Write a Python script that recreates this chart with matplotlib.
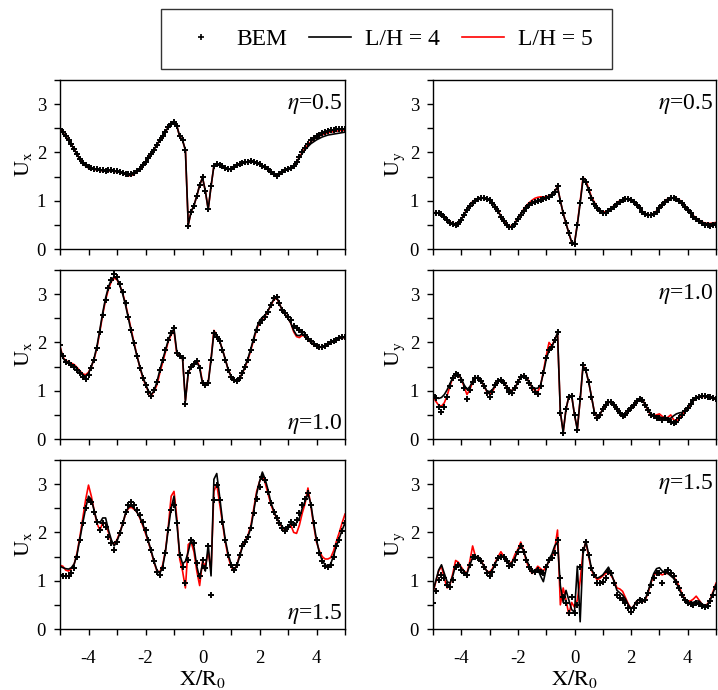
import numpy as np
import matplotlib.pyplot as plt
from matplotlib.ticker import MultipleLocator
from matplotlib.lines import Line2D

plt.rcParams['font.family'] = ['Liberation Serif', 'DejaVu Serif']
plt.rcParams['mathtext.fontset'] = 'stix'
plt.rcParams['axes.unicode_minus'] = False

# sampling points along X/R0
x = np.arange(-50, 51) / 10.0

# ---- Ux, eta = 0.5 ----
ux05_bem = [2.49, 2.42, 2.34, 2.26, 2.17, 2.07, 1.97, 1.87, 1.79, 1.73,
            1.69, 1.67, 1.66, 1.65, 1.64, 1.63, 1.62, 1.63, 1.63, 1.62,
            1.61, 1.60, 1.58, 1.56, 1.55, 1.55, 1.57, 1.61, 1.66, 1.73,
            1.80, 1.88, 1.97, 2.06, 2.16, 2.25, 2.34, 2.43, 2.52, 2.59,
            2.63, 2.55, 2.33, 2.25, 2.05, 0.47, 0.77, 0.90, 1.10, 1.32,
            1.49, 1.20, 0.82, 1.30, 1.72, 1.76, 1.74, 1.71, 1.68, 1.66,
            1.66, 1.69, 1.73, 1.76, 1.78, 1.80, 1.81, 1.82, 1.81, 1.79,
            1.76, 1.72, 1.69, 1.65, 1.60, 1.55, 1.51, 1.55, 1.60, 1.64,
            1.66, 1.67, 1.72, 1.80, 1.90, 2.01, 2.10, 2.18, 2.25, 2.30,
            2.34, 2.37, 2.40, 2.42, 2.44, 2.46, 2.47, 2.48, 2.48, 2.49, 2.49]
ux05_l4 = [2.47, 2.41, 2.33, 2.25, 2.16, 2.06, 1.96, 1.86, 1.78, 1.72,
           1.68, 1.66, 1.65, 1.64, 1.63, 1.62, 1.61, 1.62, 1.62, 1.61,
           1.60, 1.59, 1.57, 1.55, 1.53, 1.53, 1.56, 1.60, 1.66, 1.73,
           1.80, 1.88, 1.97, 2.06, 2.16, 2.25, 2.34, 2.43, 2.52, 2.59,
           2.63, 2.55, 2.33, 2.25, 2.05, 0.50, 0.77, 0.90, 1.10, 1.32,
           1.48, 1.20, 0.82, 1.30, 1.72, 1.75, 1.73, 1.70, 1.67, 1.65,
           1.65, 1.68, 1.72, 1.75, 1.77, 1.79, 1.80, 1.81, 1.80, 1.78,
           1.75, 1.71, 1.68, 1.64, 1.59, 1.54, 1.50, 1.54, 1.59, 1.63,
           1.65, 1.66, 1.71, 1.79, 1.89, 1.98, 2.06, 2.12, 2.18, 2.22,
           2.26, 2.29, 2.32, 2.34, 2.36, 2.37, 2.38, 2.39, 2.40, 2.41, 2.42]
ux05_l5 = [2.48, 2.41, 2.33, 2.25, 2.16, 2.06, 1.96, 1.86, 1.78, 1.72,
           1.68, 1.66, 1.65, 1.64, 1.63, 1.62, 1.61, 1.62, 1.62, 1.61,
           1.60, 1.59, 1.57, 1.54, 1.52, 1.52, 1.55, 1.60, 1.66, 1.73,
           1.80, 1.88, 1.97, 2.06, 2.16, 2.25, 2.34, 2.43, 2.52, 2.59,
           2.63, 2.55, 2.33, 2.25, 2.05, 0.50, 0.77, 0.90, 1.10, 1.32,
           1.48, 1.20, 0.82, 1.30, 1.72, 1.76, 1.74, 1.71, 1.68, 1.66,
           1.66, 1.69, 1.73, 1.76, 1.78, 1.80, 1.81, 1.82, 1.81, 1.79,
           1.76, 1.72, 1.69, 1.65, 1.60, 1.55, 1.51, 1.55, 1.60, 1.64,
           1.66, 1.67, 1.72, 1.80, 1.90, 2.00, 2.09, 2.16, 2.22, 2.27,
           2.31, 2.34, 2.37, 2.39, 2.41, 2.42, 2.43, 2.44, 2.45, 2.46, 2.46]

# ---- Uy, eta = 0.5 ----
uy05_bem = [0.74, 0.74, 0.74, 0.72, 0.67, 0.60, 0.54, 0.51, 0.50, 0.52,
            0.60, 0.70, 0.80, 0.89, 0.96, 1.00, 1.03, 1.05, 1.05, 1.04,
            1.01, 0.95, 0.88, 0.78, 0.67, 0.57, 0.50, 0.45, 0.45, 0.52,
            0.62, 0.70, 0.78, 0.85, 0.91, 0.95, 0.98, 1.00, 1.02, 1.04,
            1.05, 1.08, 1.12, 1.18, 1.30, 1.00, 0.74, 0.53, 0.33, 0.12,
            0.10, 0.50, 0.95, 1.45, 1.38, 1.22, 1.05, 0.94, 0.84, 0.78,
            0.75, 0.75, 0.78, 0.83, 0.88, 0.94, 0.98, 1.01, 1.03, 1.03,
            1.01, 0.97, 0.91, 0.84, 0.77, 0.73, 0.70, 0.70, 0.72, 0.77,
            0.84, 0.91, 0.98, 1.02, 1.05, 1.05, 1.03, 0.99, 0.95, 0.88,
            0.81, 0.74, 0.67, 0.62, 0.57, 0.53, 0.50, 0.49, 0.48, 0.49, 0.50]
uy05_l4 = [0.75, 0.75, 0.74, 0.72, 0.67, 0.61, 0.55, 0.52, 0.51, 0.53,
           0.61, 0.71, 0.81, 0.90, 0.97, 1.01, 1.04, 1.05, 1.05, 1.04,
           1.01, 0.95, 0.88, 0.78, 0.67, 0.57, 0.50, 0.46, 0.46, 0.53,
           0.63, 0.71, 0.79, 0.86, 0.92, 0.96, 0.99, 1.01, 1.03, 1.05,
           1.06, 1.09, 1.13, 1.19, 1.28, 1.00, 0.74, 0.53, 0.33, 0.14,
           0.12, 0.50, 0.95, 1.43, 1.38, 1.22, 1.05, 0.94, 0.84, 0.78,
           0.75, 0.75, 0.78, 0.83, 0.88, 0.94, 0.98, 1.01, 1.03, 1.03,
           1.01, 0.97, 0.91, 0.84, 0.77, 0.73, 0.70, 0.70, 0.72, 0.77,
           0.84, 0.91, 0.98, 1.02, 1.05, 1.05, 1.03, 0.99, 0.95, 0.88,
           0.81, 0.74, 0.68, 0.63, 0.59, 0.55, 0.53, 0.52, 0.52, 0.53, 0.54]
uy05_l5 = [0.75, 0.75, 0.74, 0.72, 0.68, 0.62, 0.56, 0.53, 0.52, 0.54,
           0.62, 0.72, 0.82, 0.91, 0.98, 1.02, 1.04, 1.06, 1.06, 1.05,
           1.02, 0.96, 0.89, 0.79, 0.68, 0.58, 0.51, 0.47, 0.47, 0.54,
           0.64, 0.73, 0.82, 0.90, 0.96, 1.01, 1.05, 1.07, 1.08, 1.08,
           1.08, 1.10, 1.14, 1.20, 1.28, 1.00, 0.74, 0.53, 0.33, 0.14,
           0.12, 0.52, 0.98, 1.48, 1.42, 1.25, 1.08, 0.97, 0.87, 0.80,
           0.77, 0.77, 0.80, 0.85, 0.90, 0.96, 1.00, 1.02, 1.04, 1.04,
           1.02, 0.98, 0.92, 0.85, 0.78, 0.74, 0.71, 0.71, 0.74, 0.79,
           0.86, 0.93, 1.00, 1.04, 1.06, 1.06, 1.05, 1.02, 0.97, 0.90,
           0.83, 0.76, 0.69, 0.64, 0.60, 0.56, 0.54, 0.53, 0.53, 0.54, 0.55]

# ---- Ux, eta = 1.0 ----
ux10_bem = [1.95, 1.71, 1.60, 1.57, 1.53, 1.50, 1.43, 1.36, 1.29, 1.25,
            1.33, 1.47, 1.64, 1.88, 2.22, 2.57, 2.88, 3.12, 3.29, 3.41,
            3.36, 3.22, 3.05, 2.81, 2.53, 2.26, 1.98, 1.71, 1.47, 1.26,
            1.12, 0.98, 0.90, 1.01, 1.18, 1.43, 1.64, 1.84, 2.05, 2.19,
            2.29, 1.78, 1.72, 1.68, 0.72, 1.36, 1.50, 1.56, 1.61, 1.47,
            1.15, 1.12, 1.15, 1.64, 2.20, 2.12, 2.02, 1.84, 1.64, 1.43,
            1.29, 1.22, 1.20, 1.26, 1.36, 1.50, 1.64, 1.84, 2.05, 2.26,
            2.40, 2.46, 2.53, 2.64, 2.77, 2.91, 2.95, 2.81, 2.67, 2.60,
            2.53, 2.46, 2.34, 2.29, 2.26, 2.22, 2.15, 2.08, 2.02, 1.96,
            1.93, 1.91, 1.91, 1.93, 1.96, 2.00, 2.03, 2.06, 2.10, 2.11, 2.11]
ux10_l4 = [1.90, 1.68, 1.60, 1.57, 1.54, 1.51, 1.45, 1.38, 1.32, 1.30,
           1.36, 1.50, 1.68, 1.93, 2.27, 2.62, 2.92, 3.15, 3.30, 3.36,
           3.32, 3.18, 3.00, 2.77, 2.50, 2.22, 1.96, 1.72, 1.50, 1.30,
           1.14, 1.00, 0.92, 1.00, 1.18, 1.42, 1.64, 1.84, 2.05, 2.20,
           2.28, 1.80, 1.74, 1.68, 0.78, 1.38, 1.50, 1.56, 1.60, 1.47,
           1.15, 1.12, 1.15, 1.64, 2.20, 2.13, 2.03, 1.85, 1.65, 1.44,
           1.30, 1.22, 1.20, 1.26, 1.36, 1.52, 1.68, 1.88, 2.10, 2.30,
           2.45, 2.52, 2.57, 2.66, 2.78, 2.90, 2.95, 2.80, 2.66, 2.58,
           2.50, 2.40, 2.25, 2.15, 2.14, 2.18, 2.14, 2.07, 2.01, 1.96,
           1.93, 1.91, 1.91, 1.93, 1.96, 2.00, 2.03, 2.06, 2.09, 2.10, 2.10]
ux10_l5 = [1.92, 1.70, 1.62, 1.60, 1.57, 1.54, 1.48, 1.41, 1.35, 1.33,
           1.38, 1.50, 1.66, 1.90, 2.23, 2.58, 2.88, 3.10, 3.26, 3.33,
           3.30, 3.18, 3.02, 2.80, 2.53, 2.26, 1.99, 1.73, 1.49, 1.28,
           1.12, 0.98, 0.91, 0.98, 1.12, 1.36, 1.58, 1.80, 2.02, 2.16,
           2.24, 1.75, 1.72, 1.66, 0.80, 1.36, 1.50, 1.56, 1.62, 1.50,
           1.18, 1.15, 1.18, 1.66, 2.25, 2.15, 2.03, 1.85, 1.65, 1.44,
           1.30, 1.22, 1.20, 1.26, 1.36, 1.50, 1.65, 1.85, 2.06, 2.27,
           2.42, 2.49, 2.55, 2.65, 2.77, 2.88, 2.92, 2.80, 2.66, 2.58,
           2.50, 2.40, 2.22, 2.12, 2.10, 2.15, 2.12, 2.06, 2.00, 1.95,
           1.92, 1.90, 1.90, 1.92, 1.95, 1.99, 2.02, 2.05, 2.08, 2.10, 2.10]

# ---- Uy, eta = 1.0 ----
uy10_bem = [0.92, 0.85, 0.67, 0.56, 0.67, 0.88, 1.09, 1.26, 1.35, 1.33,
            1.23, 1.05, 0.82, 1.02, 1.19, 1.27, 1.27, 1.20, 1.09, 0.95,
            0.88, 0.98, 1.12, 1.21, 1.23, 1.17, 1.05, 0.98, 0.96, 1.05,
            1.19, 1.29, 1.31, 1.26, 1.16, 1.05, 0.98, 0.93, 1.09, 1.36,
            1.67, 1.84, 1.91, 2.05, 2.22, 0.54, 0.12, 0.62, 0.88, 0.90,
            0.50, 0.18, 0.82, 1.53, 1.43, 1.19, 0.88, 0.54, 0.43, 0.50,
            0.62, 0.71, 0.76, 0.76, 0.71, 0.62, 0.54, 0.47, 0.50, 0.57,
            0.64, 0.71, 0.78, 0.83, 0.81, 0.71, 0.61, 0.50, 0.47, 0.43,
            0.43, 0.40, 0.43, 0.39, 0.36, 0.34, 0.36, 0.43, 0.50, 0.57,
            0.64, 0.73, 0.80, 0.85, 0.88, 0.89, 0.89, 0.88, 0.87, 0.85, 0.83]
uy10_l4 = [0.90, 0.86, 0.84, 0.86, 0.92, 1.02, 1.15, 1.27, 1.35, 1.34,
           1.25, 1.12, 1.03, 1.08, 1.20, 1.27, 1.27, 1.21, 1.11, 1.00,
           0.98, 1.02, 1.12, 1.20, 1.22, 1.17, 1.08, 1.02, 1.00, 1.06,
           1.18, 1.28, 1.30, 1.26, 1.17, 1.08, 1.05, 1.05, 1.12, 1.36,
           1.65, 1.84, 1.91, 2.05, 2.20, 0.56, 0.14, 0.62, 0.88, 0.90,
           0.50, 0.20, 0.82, 1.50, 1.42, 1.18, 0.88, 0.56, 0.45, 0.51,
           0.62, 0.71, 0.76, 0.76, 0.71, 0.62, 0.54, 0.48, 0.51, 0.57,
           0.64, 0.71, 0.78, 0.83, 0.81, 0.71, 0.61, 0.52, 0.49, 0.46,
           0.46, 0.44, 0.45, 0.42, 0.43, 0.48, 0.52, 0.54, 0.55, 0.59,
           0.65, 0.73, 0.80, 0.85, 0.88, 0.89, 0.89, 0.88, 0.87, 0.85, 0.83]
uy10_l5 = [0.88, 0.78, 0.70, 0.68, 0.75, 0.90, 1.10, 1.27, 1.36, 1.34,
           1.24, 1.08, 0.92, 1.02, 1.18, 1.26, 1.27, 1.21, 1.10, 0.98,
           0.93, 0.98, 1.10, 1.20, 1.22, 1.18, 1.08, 1.02, 1.00, 1.06,
           1.18, 1.28, 1.32, 1.28, 1.18, 1.07, 1.00, 0.98, 1.10, 1.40,
           1.72, 2.00, 1.92, 2.06, 2.18, 0.56, 0.14, 0.62, 0.88, 0.90,
           0.50, 0.20, 0.82, 1.52, 1.42, 1.18, 0.88, 0.56, 0.45, 0.51,
           0.62, 0.71, 0.76, 0.76, 0.71, 0.62, 0.54, 0.48, 0.51, 0.57,
           0.64, 0.71, 0.78, 0.83, 0.81, 0.71, 0.58, 0.50, 0.48, 0.50,
           0.52, 0.47, 0.43, 0.45, 0.50, 0.40, 0.37, 0.43, 0.50, 0.57,
           0.64, 0.72, 0.79, 0.84, 0.87, 0.88, 0.88, 0.87, 0.86, 0.84, 0.82]

# ---- Ux, eta = 1.5 ----
ux15_bem = [1.12, 1.10, 1.09, 1.09, 1.16, 1.26, 1.50, 1.84, 2.19, 2.50,
            2.68, 2.63, 2.43, 2.22, 2.05, 2.19, 2.12, 1.91, 1.78, 1.64,
            1.81, 1.98, 2.19, 2.43, 2.57, 2.64, 2.57, 2.46, 2.36, 2.22,
            2.05, 1.84, 1.64, 1.40, 1.19, 1.12, 1.26, 1.57, 2.05, 2.46,
            2.57, 2.19, 1.53, 1.29, 0.95, 1.43, 1.84, 1.78, 1.36, 1.09,
            1.43, 1.26, 1.71, 0.71, 2.67, 2.98, 2.67, 2.22, 1.84, 1.53,
            1.33, 1.22, 1.33, 1.53, 1.71, 1.81, 1.91, 2.09, 2.40, 2.70,
            2.95, 3.15, 3.08, 2.84, 2.60, 2.43, 2.29, 2.19, 2.09, 2.02,
            2.12, 2.22, 2.15, 2.26, 2.40, 2.57, 2.70, 2.81, 2.57, 2.19,
            1.84, 1.57, 1.40, 1.31, 1.28, 1.33, 1.50, 1.71, 1.84, 2.02, 2.19]
ux15_l4 = [1.30, 1.27, 1.25, 1.24, 1.27, 1.35, 1.55, 1.87, 2.20, 2.50,
           2.75, 2.68, 2.45, 2.22, 2.20, 2.30, 2.30, 2.05, 1.85, 1.72,
           1.82, 1.98, 2.18, 2.40, 2.52, 2.55, 2.50, 2.42, 2.32, 2.18,
           2.02, 1.82, 1.62, 1.40, 1.22, 1.15, 1.28, 1.60, 2.08, 2.50,
           2.75, 2.20, 1.55, 1.35, 1.40, 1.60, 1.85, 1.70, 1.30, 1.05,
           1.35, 1.20, 1.75, 1.10, 3.10, 3.22, 2.75, 2.25, 1.85, 1.55,
           1.35, 1.22, 1.30, 1.50, 1.70, 1.80, 1.92, 2.10, 2.45, 2.80,
           3.05, 3.25, 3.10, 2.88, 2.62, 2.45, 2.30, 2.20, 2.12, 2.05,
           2.10, 2.20, 2.15, 2.20, 2.30, 2.50, 2.65, 2.80, 2.60, 2.20,
           1.85, 1.58, 1.42, 1.33, 1.30, 1.35, 1.52, 1.72, 1.88, 2.05, 2.20]
ux15_l5 = [1.32, 1.30, 1.22, 1.20, 1.25, 1.35, 1.58, 1.92, 2.30, 2.68,
           2.98, 2.75, 2.45, 2.18, 2.05, 2.20, 2.18, 2.00, 1.80, 1.75,
           1.85, 2.00, 2.18, 2.38, 2.50, 2.52, 2.48, 2.42, 2.30, 2.15,
           1.98, 1.80, 1.60, 1.38, 1.20, 1.18, 1.32, 1.62, 2.12, 2.75,
           2.85, 2.30, 1.45, 1.20, 0.85, 1.75, 1.80, 1.60, 1.20, 0.90,
           1.40, 1.30, 1.60, 1.20, 2.85, 3.00, 2.60, 2.20, 1.80, 1.50,
           1.30, 1.20, 1.32, 1.52, 1.72, 1.82, 1.95, 2.15, 2.50, 2.85,
           3.05, 3.18, 3.02, 2.80, 2.58, 2.42, 2.30, 2.20, 2.10, 2.05,
           2.10, 2.15, 2.00, 1.98, 2.15, 2.40, 2.60, 2.92, 2.55, 2.15,
           1.80, 1.62, 1.50, 1.45, 1.45, 1.48, 1.62, 1.82, 2.00, 2.20, 2.38]

# ---- Uy, eta = 1.5 ----
uy15_bem = [0.54, 0.78, 1.02, 1.12, 1.05, 0.92, 0.88, 1.02, 1.29, 1.33,
            1.23, 1.16, 1.12, 1.33, 1.49, 1.50, 1.47, 1.40, 1.29, 1.16,
            1.10, 1.19, 1.33, 1.47, 1.50, 1.50, 1.40, 1.31, 1.33, 1.43,
            1.60, 1.71, 1.60, 1.43, 1.29, 1.20, 1.19, 1.23, 1.19, 1.17,
            1.29, 1.43, 1.47, 1.57, 1.84, 1.05, 0.67, 0.54, 0.33, 0.67,
            0.33, 0.50, 1.29, 1.64, 1.81, 1.53, 1.26, 1.12, 0.95, 0.95,
            0.98, 1.05, 1.19, 1.16, 0.95, 0.71, 0.64, 0.61, 0.54, 0.43,
            0.36, 0.43, 0.54, 0.61, 0.57, 0.61, 0.74, 0.92, 1.05, 1.16,
            1.17, 0.95, 1.19, 1.23, 1.16, 1.09, 0.98, 0.85, 0.71, 0.61,
            0.54, 0.52, 0.50, 0.54, 0.52, 0.48, 0.45, 0.48, 0.57, 0.71, 0.88]
uy15_l4 = [0.78, 1.00, 1.22, 1.33, 1.15, 0.98, 0.95, 1.10, 1.32, 1.35,
           1.25, 1.18, 1.15, 1.32, 1.48, 1.50, 1.48, 1.40, 1.30, 1.20,
           1.15, 1.22, 1.35, 1.48, 1.52, 1.50, 1.42, 1.35, 1.38, 1.48,
           1.62, 1.72, 1.62, 1.45, 1.30, 1.20, 1.22, 1.25, 1.10, 0.98,
           1.25, 1.45, 1.55, 1.72, 1.80, 0.90, 0.55, 0.80, 0.60, 0.40,
           0.35, 1.30, 0.15, 1.55, 1.82, 1.55, 1.25, 1.12, 1.05, 1.08,
           1.12, 1.20, 1.28, 1.15, 0.98, 0.80, 0.75, 0.70, 0.62, 0.50,
           0.42, 0.48, 0.58, 0.62, 0.58, 0.62, 0.78, 0.98, 1.15, 1.25,
           1.27, 1.20, 1.18, 1.15, 1.10, 1.05, 0.95, 0.82, 0.70, 0.60,
           0.55, 0.55, 0.55, 0.58, 0.58, 0.52, 0.48, 0.50, 0.60, 0.75, 0.92]
uy15_l5 = [0.75, 0.98, 1.20, 1.30, 1.05, 0.85, 0.92, 1.15, 1.42, 1.38,
           1.28, 1.20, 1.15, 1.40, 1.72, 1.50, 1.50, 1.42, 1.30, 1.20,
           1.18, 1.25, 1.38, 1.50, 1.60, 1.50, 1.40, 1.35, 1.40, 1.55,
           1.65, 1.80, 1.62, 1.40, 1.25, 1.15, 1.20, 1.30, 1.25, 1.20,
           1.30, 1.40, 1.48, 1.65, 2.05, 0.50, 0.85, 0.60, 0.30, 0.55,
           0.45, 0.60, 1.00, 1.60, 1.80, 1.50, 1.22, 1.10, 1.02, 1.05,
           1.10, 1.15, 1.20, 1.10, 1.00, 0.85, 0.83, 0.78, 0.65, 0.52,
           0.42, 0.48, 0.58, 0.60, 0.56, 0.60, 0.75, 0.95, 1.10, 1.18,
           1.15, 1.12, 1.15, 1.15, 1.12, 1.08, 1.00, 0.88, 0.72, 0.62,
           0.58, 0.58, 0.62, 0.68, 0.60, 0.52, 0.48, 0.52, 0.62, 0.78, 0.95]

fig = plt.figure(figsize=(7.18, 6.90), dpi=100)

W, H = 718.0, 690.0
col_left = [60 / W, 433 / W]
col_width = [285 / W, 283 / W]
row_bottom = [1 - 249 / H, 1 - 439 / H, 1 - 629 / H]
row_height = 169 / H

panels = [
    (0, 0, ux05_bem, ux05_l4, ux05_l5, 'x', r'$\eta$=0.5', 'top'),
    (0, 1, uy05_bem, uy05_l4, uy05_l5, 'y', r'$\eta$=0.5', 'top'),
    (1, 0, ux10_bem, ux10_l4, ux10_l5, 'x', r'$\eta$=1.0', 'bottom'),
    (1, 1, uy10_bem, uy10_l4, uy10_l5, 'y', r'$\eta$=1.0', 'top'),
    (2, 0, ux15_bem, ux15_l4, ux15_l5, 'x', r'$\eta$=1.5', 'bottom'),
    (2, 1, uy15_bem, uy15_l4, uy15_l5, 'y', r'$\eta$=1.5', 'top'),
]

for row, col, bem, l4, l5, comp, eta, where in panels:
    ax = fig.add_axes([col_left[col], row_bottom[row], col_width[col], row_height])
    ax.plot(x, l5, color='red', lw=1.2, zorder=2)
    ax.plot(x, l4, color='black', lw=1.2, zorder=3)
    ax.plot(x, bem, ls='none', marker='+', color='black', ms=5, mew=1.4, zorder=4)

    ax.set_xlim(-5, 5)
    ax.set_ylim(0, 3.5)
    ax.xaxis.set_major_locator(MultipleLocator(2))
    ax.xaxis.set_minor_locator(MultipleLocator(1))
    ax.yaxis.set_major_locator(MultipleLocator(1))
    ax.yaxis.set_minor_locator(MultipleLocator(0.5))
    ax.tick_params(which='both', direction='out', length=4, width=1.0,
                   top=False, right=False, labelsize=13.5)
    ax.tick_params(axis='y', which='major', pad=6)
    ax.tick_params(axis='x', which='major', pad=11)
    for s in ax.spines.values():
        s.set_linewidth(1.0)

    ax.set_ylabel(r'$\mathrm{U}_{\mathrm{%s}}$' % comp, fontsize=16, labelpad=2)
    if row < 2:
        ax.tick_params(axis='x', labelbottom=False)
    else:
        ax.set_xlabel(r'$\mathrm{X/R}_{0}$', fontsize=16, labelpad=1)

    if where == 'top':
        ax.text(0.99, 0.93, eta, transform=ax.transAxes, ha='right', va='top', fontsize=17)
    else:
        ax.text(0.99, 0.06, eta, transform=ax.transAxes, ha='right', va='baseline', fontsize=17)

handles = [
    Line2D([], [], ls='none', marker='+', color='black', ms=4, mew=1.2),
    Line2D([], [], color='black', lw=1.2),
    Line2D([], [], color='red', lw=1.2),
]
leg = fig.legend(handles, ['BEM', 'L/H = 4', 'L/H = 5'], loc='center',
                 bbox_to_anchor=(386.5 / W, 1 - 39 / H), ncol=3, fontsize=17,
                 frameon=True, fancybox=False, edgecolor='black',
                 handlelength=1.8, handletextpad=0.6, columnspacing=0.9,
                 borderpad=0.8)
leg.get_frame().set_linewidth(1.0)

fig.savefig('out.png', dpi=100)
